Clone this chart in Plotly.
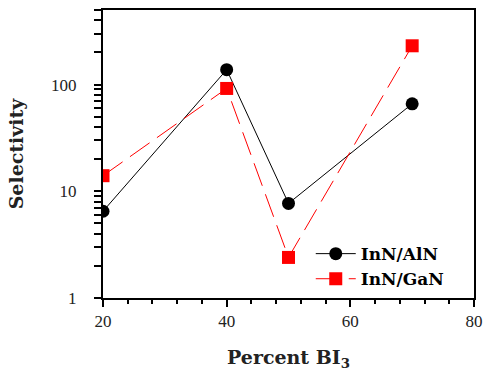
import plotly.graph_objects as go

# Selectivity vs. percent BI3 for two etch systems
percent_bi3 = [20, 40, 50, 70]
inn_aln = [6.5, 138, 7.7, 66]
inn_gan = [14, 92, 2.4, 231]

x_range = [20, 80]
y_range = [0, 2.699]  # log10 of 1 .. 500
y_labels = [1, 10, 100]
# every decade digit gets a tick; only the decades carry a label
y_ticks = [v * m for m in (1, 10, 100) for v in range(1, 10) if v * m <= 500]
y_ticktext = [str(v) if v in y_labels else "" for v in y_ticks]

tick_family = "Liberation Serif"
title_family = "DejaVu Serif"

fig = go.Figure()
fig.add_trace(go.Scatter(
    x=percent_bi3, y=inn_aln, name="InN/AlN", mode="lines+markers",
    line=dict(color="black", width=1),
    marker=dict(symbol="circle", size=13, color="black"),
))
fig.add_trace(go.Scatter(
    x=percent_bi3, y=inn_gan, name="InN/GaN", mode="lines+markers",
    line=dict(color="#ff0000", width=1, dash="24px,9px"),
    marker=dict(symbol="square", size=13, color="#ff0000"),
))

fig.update_layout(
    width=484, height=371,
    margin=dict(l=103, r=10, t=10, b=73, autoexpand=False),
    paper_bgcolor="white", plot_bgcolor="white",
    font=dict(family=tick_family, color="#222"),
    showlegend=True,
    legend=dict(
        x=0.56, y=0.215, xanchor="left", yanchor="top",
        bgcolor="rgba(0,0,0,0)",
        font=dict(family=title_family, size=17, color="black", weight="bold"),
        tracegroupgap=0, itemwidth=40,
    ),
    xaxis=dict(
        range=x_range, tickmode="linear", tick0=20, dtick=20,
        ticks="outside", ticklen=7, tickwidth=2, tickcolor="black",
        minor=dict(tickmode="linear", tick0=20, dtick=4, ticks="outside",
                   ticklen=4, tickwidth=2, tickcolor="black", showgrid=False),
        showline=True, linewidth=2, linecolor="black", mirror=True,
        showgrid=False, zeroline=False, automargin=False,
        tickfont=dict(family=tick_family, size=17, color="#222"),
        title=dict(text="Percent BI<sub>3</sub>", standoff=20,
                   font=dict(family=title_family, size=19, color="#222", weight="bold")),
    ),
    yaxis=dict(
        type="log", range=y_range, tickmode="array",
        tickvals=y_ticks, ticktext=y_ticktext,
        ticks="outside", ticklen=7, tickwidth=2, tickcolor="black",
        ticklabelstandoff=14,
        showline=True, linewidth=2, linecolor="black", mirror=True,
        showgrid=False, zeroline=False, automargin=False,
        tickfont=dict(family=tick_family, size=17, color="#222"),
        title=dict(text="Selectivity", standoff=22,
                   font=dict(family=title_family, size=19, color="#222", weight="bold")),
    ),
)

fig.write_html("out.html")
